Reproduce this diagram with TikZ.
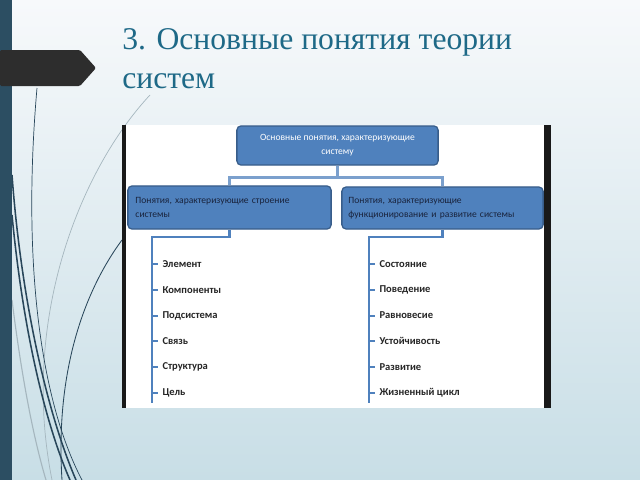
\documentclass[tikz,border=0pt]{standalone}
\usepackage{fontspec}
\setmainfont{Liberation Serif}
\newfontfamily\chartfont{Carlito}
\usetikzlibrary{positioning}

\definecolor{titleblue}{RGB}{30,105,135}
\definecolor{barblue}{RGB}{44,78,98}
\definecolor{arrowgray}{RGB}{45,45,45}
\definecolor{boxfill}{RGB}{79,129,189}
\definecolor{boxline}{RGB}{56,93,138}
\definecolor{boxtext}{RGB}{25,35,60}
\definecolor{wisp}{RGB}{40,70,90}
\definecolor{wisplight}{RGB}{165,182,190}
\definecolor{bgtop}{RGB}{247,249,251}
\definecolor{bgbottom}{RGB}{200,222,230}

\begin{document}
\begin{tikzpicture}[x=0.025cm,y=-0.025cm]

\tikzset{box/.style={draw=boxline,line width=0.9pt,fill=boxfill,rounded corners=3pt,inner sep=0pt,
  font=\chartfont\fontsize{6.8}{10}\selectfont},
toplink/.style={draw=boxfill!75,line width=1.8pt},
link/.style={draw=boxfill,line width=1.5pt},
item/.style={anchor=west,inner sep=3pt,text=black!85,font=\chartfont\bfseries\fontsize{7.5}{9}\selectfont}}

\useasboundingbox (0,0) rectangle (640,480);
\shade[top color=bgtop,bottom color=bgbottom] (0,0) rectangle (640,480);

% wisps
\draw[wisplight,line width=0.5pt] (150,95) .. controls (80,170) and (20,320) .. (52,480);
\draw[wisplight,line width=0.8pt] (12,300) .. controls (22,380) and (34,440) .. (46,480);
\draw[wisp,line width=0.5pt] (37,88) .. controls (22,260) and (40,400) .. (82,480);
\draw[wisp,line width=1.1pt] (12,175) .. controls (22,310) and (50,420) .. (76,480);
\draw[wisp,line width=1.1pt] (12,215) .. controls (24,340) and (48,430) .. (70,480);
\draw[wisp,line width=0.6pt] (122,240) .. controls (85,290) and (55,370) .. (62,480);

\fill[barblue] (0,0) rectangle (12,480);
\fill[arrowgray,rounded corners=1] (0,50) -- (80,50) -- (96,68) -- (80,86) -- (0,86) -- cycle;

\node[anchor=base west,text=titleblue,align=left,inner sep=0pt,font=\fontsize{22.5}{27.5}\selectfont] (title) at (122,88) {3. Основные понятия теории\\систем};

% chart
\fill[white] (122,125) rectangle (551,408);
\fill[black!90] (122,125) rectangle (126,408);
\fill[black!90] (544,125) rectangle (551,408);

\node[box,minimum width=5.03cm,minimum height=0.98cm,text=white,align=center] (root) at (337.5,145.5)
  {Основные понятия, характеризующие\\систему};
\node[box,minimum width=5.08cm,minimum height=1.08cm,text width=4.7cm,align=left,text=boxtext] (struct) at (229.5,207.5)
  {Понятия, характеризующие строение\\системы};
\node[box,minimum width=5.03cm,minimum height=1.05cm,text width=4.7cm,align=left,text=boxtext] (func) at (442.5,208)
  {Понятия, характеризующие\\функционирование и развитие системы};

\draw[toplink] (root.south) -- ++(0,12) -| (struct.north);
\draw[toplink] (root.south) -- ++(0,12) -| (func.north);

\coordinate (ltop) at (152,237);
\coordinate (lend) at (152,403);
\coordinate (rtop) at (369,237);
\coordinate (rend) at (369,403);

\draw[link] (struct.south) |- (ltop) -- (lend);
\draw[link] (func.south) |- (rtop) -- (rend);

\foreach \txt [count=\i] in {Элемент,Компоненты,Подсистема,Связь,Структура,Цель}
  \node[item] (l\i) at (158,{264+25.8*(\i-1)}) {\txt};
\foreach \txt [count=\i] in {Состояние,Поведение,Равновесие,Устойчивость,Развитие,Жизненный цикл}
  \node[item] (r\i) at (375,{264+25.8*(\i-1)}) {\txt};

\foreach \i in {1,...,6}{
  \draw[link] (lend |- l\i.west) -- (l\i.west);
  \draw[link] (rend |- r\i.west) -- (r\i.west);
}

\end{tikzpicture}
\end{document}
